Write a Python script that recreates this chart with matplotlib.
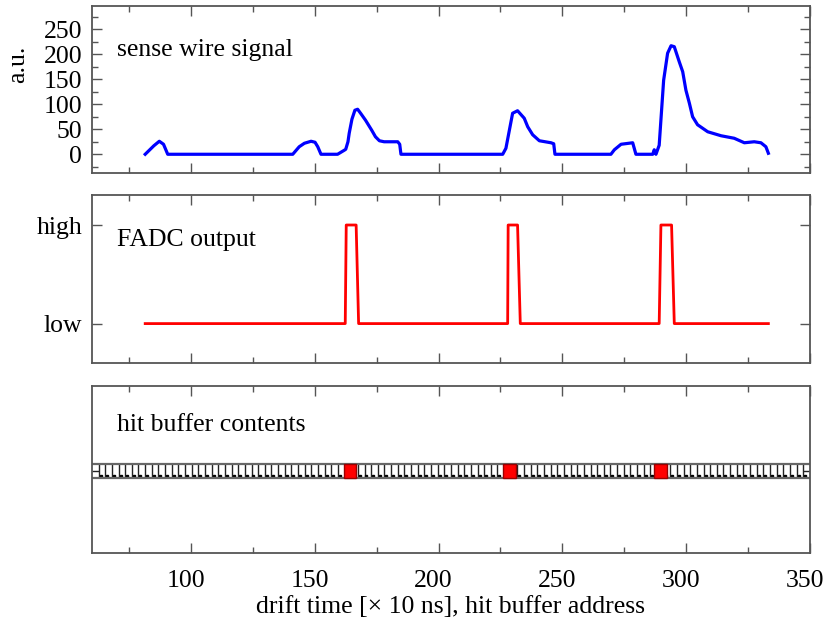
import numpy as np
import matplotlib
matplotlib.use('Agg')
import matplotlib.pyplot as plt
import matplotlib.transforms as mtransforms
from matplotlib.ticker import MultipleLocator, FixedLocator

plt.rcParams['font.family'] = ['Liberation Serif', 'DejaVu Serif']

# ---- data ----
signal_t = [81.5, 85.0, 87.2, 88.9, 90.6,
            141.1, 143.7, 145.8, 148.5, 150.1, 151.2, 152.5,
            159.2, 161.9, 162.5, 163.4, 163.9, 165.0, 166.2, 167.3, 168.5, 170.5, 171.5,
            173.0, 174.5, 176.1, 178.0, 183.5, 184.3, 184.8,
            225.9, 227.2, 229.9, 231.9, 234.6, 236.0, 238.0, 240.7, 245.4, 246.5, 247.0,
            269.6, 271.0, 273.7, 278.4, 279.7,
            286.5, 287.1, 287.8, 289.1, 290.9, 292.5, 293.9, 295.2, 297.2, 298.6, 299.9,
            301.3, 302.6, 304.6, 308.7, 314.1, 319.4, 323.5, 327.5, 330.2, 332.2, 333.2]
signal_v = [0, 17, 26, 20, 0,
            0, 15, 22, 26, 24, 15, 0,
            0, 8, 10, 25, 42, 70, 88, 90, 82, 68, 60,
            48, 35, 27, 25, 25, 20, 0,
            0, 12, 82, 87, 72, 55, 39, 27, 23, 21, 0,
            0, 9, 20, 23, 0,
            0, 9, 0, 18, 148, 202, 217, 215, 185, 165, 128,
            102, 75, 59, 45, 37, 32, 23, 25, 23, 15, 2]

fadc_t = [81.5, 162.3, 162.7, 166.7, 167.7, 227.9, 228.1, 231.9, 233.0,
          289.1, 289.8, 294.1, 295.2, 333.2]
fadc_state = [0, 0, 1, 1, 0, 0, 1, 1, 0, 0, 1, 1, 0, 0]

hit_start = [161.6, 225.9, 287.1]
hit_width = 5.2
buffer_first, buffer_last, buffer_cell = 60.0, 350.0, 2.685

x_major = [100, 150, 200, 250, 300, 350]

# ---- figure ----
fig = plt.figure(figsize=(8.27, 6.26), dpi=100)
left, width, h = 0.1112, 0.8682, 0.2677
ax1 = fig.add_axes([left, 0.7232, width, h])
ax2 = fig.add_axes([left, 0.4201, width, h])
ax3 = fig.add_axes([left, 0.1161, width, h])

spine_col = '#555555'
FS = 18.5

for ax in (ax1, ax2, ax3):
    ax.set_xlim(60, 350)
    ax.xaxis.set_major_locator(FixedLocator(x_major))
    ax.xaxis.set_minor_locator(MultipleLocator(25))
    ax.tick_params(which='both', direction='in', top=True, right=True,
                   color=spine_col, width=1.0, labelsize=FS, pad=7)
    ax.tick_params(which='major', length=7)
    ax.tick_params(which='minor', length=4.5)
    for s in ax.spines.values():
        s.set_color(spine_col)
        s.set_linewidth(1.3)

for ax in (ax1, ax2):
    ax.tick_params(axis='x', labelbottom=False)

# panel 1: sense wire signal
ax1.plot(signal_t, signal_v, color='#0000ff', lw=2.3, solid_joinstyle='round')
ax1.set_ylim(-38, 297)
ax1.yaxis.set_major_locator(MultipleLocator(50))
ax1.yaxis.set_minor_locator(MultipleLocator(25))
ax1.set_yticks([0, 50, 100, 150, 200, 250])
ax1.set_ylabel('a.u.', fontsize=FS)
ax1.yaxis.set_label_coords(-0.087, 0.65)
ax1.text(0.035, 0.736, 'sense wire signal', transform=ax1.transAxes,
         fontsize=FS, va='center', ha='left')

# panel 2: FADC output
ax2.plot(fadc_t, fadc_state, color='#ff0000', lw=2.0)
ax2.set_ylim(-0.4, 1.3)
ax2.set_yticks([0, 1])
ax2.set_yticklabels(['low', 'high'])
ax2.yaxis.set_minor_locator(FixedLocator([]))
ax2.text(0.035, 0.734, 'FADC output', transform=ax2.transAxes,
         fontsize=FS, va='center', ha='left')

# panel 3: hit buffer
ax3.set_ylim(0, 1)
ax3.set_yticks([])
ax3.tick_params(axis='y', which='both', left=False, right=False)
ax3.tick_params(axis='x', which='major', pad=12)
y_lo, y_hi = 0.451, 0.533
bounds = np.arange(buffer_first, buffer_last + 0.01, buffer_cell)
ax3.vlines(bounds[1:-1], y_lo, y_hi, color='#222222', lw=1.0, zorder=2)
ax3.plot(bounds[1:-1] + 0.8, np.full(len(bounds) - 2, y_lo + 0.012), 's',
         color='black', ms=2.0, zorder=2)
ax3.hlines([y_lo, y_hi], buffer_first, buffer_last, color='#666666', lw=1.6, zorder=2)
ax3.hlines([(y_lo + y_hi) / 2] * 2, [buffer_first, buffer_last - 3],
           [buffer_first + 3, buffer_last], color='#222222', lw=1.0, zorder=2)
ax3.bar(hit_start, y_hi - y_lo, width=hit_width, bottom=y_lo, align='edge',
        color='#ff0000', edgecolor='#990000', linewidth=1.0, zorder=3)
ax3.text(0.035, 0.766, 'hit buffer contents', transform=ax3.transAxes,
         fontsize=FS, va='center', ha='left')
ax3.set_xlabel('drift time [× 10 ns], hit buffer address', fontsize=FS, labelpad=3)

# tick labels sit a few pixels left of their ticks in the reference
shift = mtransforms.ScaledTranslation(-5 / 100, 0, fig.dpi_scale_trans)
for lbl in ax3.get_xticklabels():
    lbl.set_transform(lbl.get_transform() + shift)

fig.savefig('out.png', dpi=100)
